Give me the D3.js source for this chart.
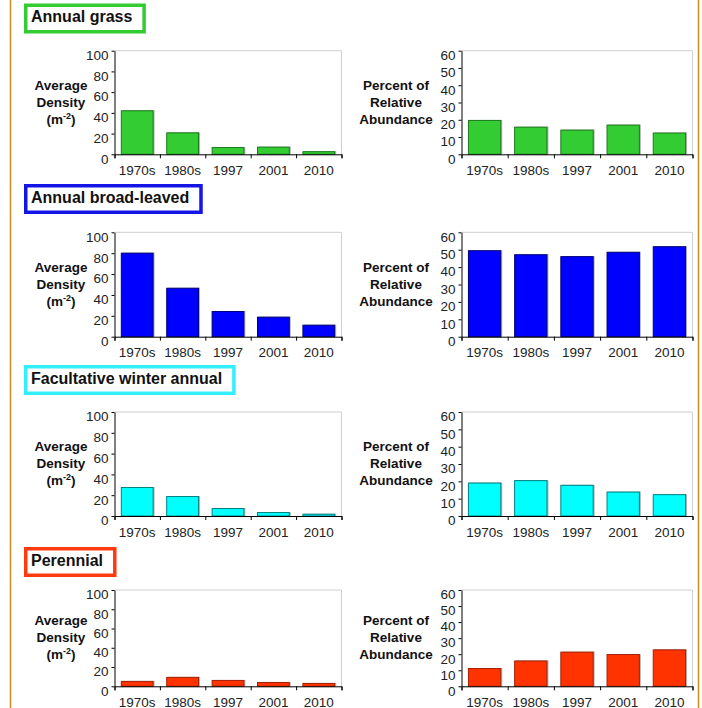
<!DOCTYPE html>
<html><head><meta charset="utf-8">
<script src="https://cdn.jsdelivr.net/npm/d3@7"></script>
<style>body{margin:0;background:#fff}svg{display:block;font-family:"Liberation Sans",Arial,sans-serif}</style>
</head><body><svg id="c" width="702" height="708"></svg>
<script>
const categories = ["1970s","1980s","1997","2001","2010"];
const groups = ["Annual grass","Annual broad-leaved","Facultative winter annual","Perennial"];
const densityTicks = [0,20,40,60,80,100];
const percentTicks = [0,10,20,30,40,50,60];
const grassDensity = [42.5, 21.2, 7.0, 7.4, 3.0];
const broadDensity = [80.5, 46.9, 24.6, 19.2, 11.5];
const winterDensity = [27.9, 19.2, 7.7, 3.8, 2.2];
const perennialDensity = [5.6, 9.8, 6.6, 4.5, 3.5];
const grassPercent = [19.9, 16.0, 14.3, 17.2, 12.6];
const broadPercent = [49.7, 47.4, 46.3, 48.8, 52.0];
const winterPercent = [19.3, 20.7, 18.0, 14.1, 12.6];
const perennialPercent = [11.4, 16.1, 21.6, 20.1, 23.0];
const densityLabel = ["Average","Density","(m-2)"];
const percentLabel = ["Percent of","Relative","Abundance"];

const styles = [
  {fill:"#33cc33", edge:"#1d7a1d", box:"#33cc33"},
  {fill:"#0000ff", edge:"#00007a", box:"#1414e6"},
  {fill:"#00ffff", edge:"#008080", box:"#33eeff"},
  {fill:"#ff3300", edge:"#a32100", box:"#ff3a10"}
];
const layout = [
  {boxTop:3.5, top:50.7, bottom:154.3},
  {boxTop:184, top:232.3, bottom:336.7},
  {boxTop:365, top:412, bottom:516},
  {boxTop:547, top:590, bottom:686.3}
];
const densityData = [grassDensity, broadDensity, winterDensity, perennialDensity];
const percentData = [grassPercent, broadPercent, winterPercent, perennialPercent];

const svg = d3.select("#c");
svg.append("rect").attr("width",702).attr("height",708).attr("fill","#fff");
svg.append("line").attr("x1",10.5).attr("x2",10.5).attr("y1",0).attr("y2",708).attr("stroke","#cc8a22").attr("stroke-width",1.5);
svg.append("line").attr("x1",698.5).attr("x2",698.5).attr("y1",0).attr("y2",708).attr("stroke","#cc8a22").attr("stroke-width",1.5);

function panel(g, x0, x1, top, bottom, maxV, ticks, values, st, labelLines, labelX) {
  const x = d3.scaleBand().domain(categories).range([x0, x1]).paddingInner(0.3).paddingOuter(0.15);
  const y = d3.scaleLinear().domain([0, maxV]).range([bottom, top]);
  // frame
  g.append("path").attr("d", `M${x0},${top}H${x1}V${bottom}`).attr("fill","none").attr("stroke","#cfcfcf").attr("stroke-width",1);
  // bars
  const bars = g.append("g");
  bars.selectAll("rect.sh").data(values).join("rect").attr("class","sh")
    .attr("x",(d,i)=>x(categories[i])+1.5).attr("y",d=>y(d)).attr("width",x.bandwidth()).attr("height",d=>y(0)-y(d))
    .attr("fill","#b4b4b4");
  bars.selectAll("rect.b").data(values).join("rect").attr("class","b")
    .attr("x",(d,i)=>x(categories[i])).attr("y",d=>y(d)+0.5).attr("width",x.bandwidth()).attr("height",d=>Math.max(0,y(0)-y(d)-0.5))
    .attr("fill",st.fill).attr("stroke",st.edge).attr("stroke-width",1);
  // y axis
  const ya = g.append("g").attr("transform",`translate(${x0},0)`)
    .call(d3.axisLeft(y).tickValues(ticks).tickSize(3).tickSizeOuter(0).tickPadding(3));
  ya.select(".domain").attr("stroke","#000");
  ya.selectAll(".tick line").attr("stroke","#000");
  ya.selectAll(".tick text").attr("y",4.5).attr("font-size","13.5px").attr("fill","#222").attr("font-family","Liberation Sans, Arial, sans-serif");
  // x axis ticks at boundaries
  const xb = d3.scaleLinear().domain([0, categories.length]).range([x0, x1]);
  const xa = g.append("g").attr("transform",`translate(0,${bottom})`)
    .call(d3.axisBottom(xb).ticks(categories.length).tickSize(4).tickSizeOuter(4).tickFormat(""));
  xa.selectAll("path,line").attr("stroke","#000");
  const xl = g.append("g").attr("transform",`translate(0,${bottom})`)
    .call(d3.axisBottom(x).tickSize(0).tickPadding(11));
  xl.select(".domain").remove();
  xl.selectAll(".tick text").attr("font-size","13.5px").attr("fill","#222").attr("font-family","Liberation Sans, Arial, sans-serif");
  // axis title
  const mid = (top + bottom) / 2 - 1;
  const t = g.append("text").attr("text-anchor","middle").attr("font-weight","bold").attr("font-size","13.5px").attr("fill","#111");
  labelLines.forEach((ln, i) => {
    const ty = mid + (i - 1) * 17 + 5;
    if (ln === "(m-2)") {
      const tt = t.append("tspan").attr("x", labelX).attr("y", ty);
      tt.append("tspan").text("(m");
      tt.append("tspan").attr("dy",-5).attr("font-size","9px").text("-2");
      tt.append("tspan").attr("dy",5).text(")");
    } else {
      t.append("tspan").attr("x", labelX).attr("y", ty).text(ln);
    }
  });
}

groups.forEach((name, r) => {
  const L = layout[r], st = styles[r];
  const g = svg.append("g");
  const box = g.append("rect");
  const txt = g.append("text").attr("x",31).attr("y",L.boxTop+18.5).attr("font-weight","bold").attr("font-size","16px").attr("fill","#111").text(name);
  const w = txt.node().getComputedTextLength();
  box.attr("x",25.75).attr("y",L.boxTop+1.75).attr("width",w+17).attr("height",26.5)
    .attr("fill","#fff").attr("stroke",st.box).attr("stroke-width",3.5);
  panel(g, 114.5, 341.5, L.top, L.bottom, 100, densityTicks, densityData[r], st, densityLabel, 61);
  panel(g, 461.5, 692.5, L.top, L.bottom, 60, percentTicks, percentData[r], st, percentLabel, 396);
});
</script></body></html>
